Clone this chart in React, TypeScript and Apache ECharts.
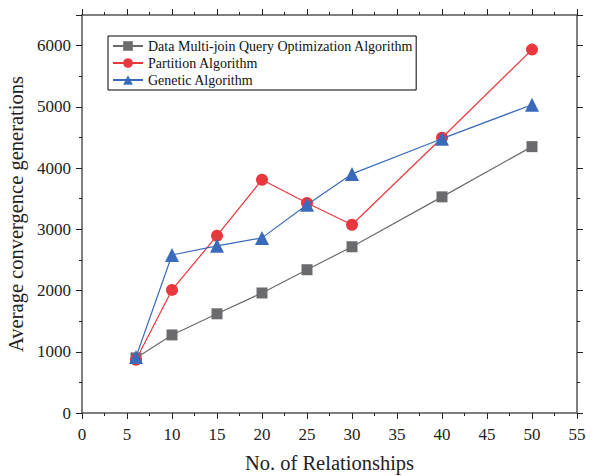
import React, { useEffect, useRef } from "react";
import * as echarts from "echarts";

const xValues = [6, 10, 15, 20, 25, 30, 40, 50];
const multiJoin = [900, 1275, 1620, 1960, 2340, 2715, 3530, 4350];
const partition = [870, 2010, 2895, 3810, 3430, 3075, 4495, 5935];
const genetic = [915, 2580, 2730, 2860, 3400, 3905, 4480, 5035];
const seriesNames = [
  "Data Multi-join Query Optimization Algorithm",
  "Partition Algorithm",
  "Genetic Algorithm",
];

const FONT = "'Liberation Serif', 'Times New Roman', serif";

export default function App() {
  const ref = useRef<HTMLDivElement>(null);
  useEffect(() => {
    document.body.style.margin = "0";
    if (!ref.current) return;
    const chart = echarts.init(ref.current, null, { renderer: "svg" });
    const pairs = (ys: number[]) => xValues.map((x, i) => [x, ys[i]]);
    const axisLine = { show: true, onZero: false, lineStyle: { color: "#555", width: 1.5 } };
    const tickStyle = { color: "#222", width: 1 };
    const xBase = {
      type: "value" as const,
      min: 0,
      max: 55,
      interval: 5,
      splitLine: { show: false },
      axisLine,
      axisTick: { show: true, inside: false, length: 6, lineStyle: tickStyle },
      minorTick: { show: true, splitNumber: 2, length: 3, lineStyle: tickStyle },
    };
    const yBase = {
      type: "value" as const,
      min: 0,
      max: 6500,
      interval: 1000,
      splitLine: { show: false },
      axisLine,
      axisTick: { show: true, inside: false, length: 6, lineStyle: tickStyle },
      minorTick: { show: true, splitNumber: 2, length: 3, lineStyle: tickStyle },
    };
    chart.setOption({
      animation: false,
      textStyle: { fontFamily: FONT },
      grid: {
        left: 82,
        right: 17,
        top: 15,
        bottom: 63,
        containLabel: false,
        outerBoundsMode: "none",
      },
      legend: {
        orient: "vertical",
        left: 108,
        top: 36,
        itemWidth: 30,
        itemHeight: 12,
        itemGap: 3,
        padding: [3, 3, 3, 4],
        borderColor: "#000",
        borderWidth: 1,
        textStyle: { fontFamily: FONT, fontSize: 14, color: "#111" },
        data: seriesNames,
      },
      xAxis: [
        {
          ...xBase,
          position: "bottom",
          name: "No. of Relationships",
          nameLocation: "middle",
          nameGap: 39,
          nameTextStyle: { fontFamily: FONT, fontSize: 20.5, color: "#222" },
          axisLabel: { fontFamily: FONT, fontSize: 17, color: "#222", margin: 13 },
        },
        { ...xBase, position: "top", axisLabel: { show: false } },
      ],
      yAxis: [
        {
          ...yBase,
          position: "left",
          name: "Average convergence generations",
          nameLocation: "middle",
          nameGap: 51,
          nameTextStyle: { fontFamily: FONT, fontSize: 20.5, color: "#222" },
          axisLabel: {
            fontFamily: FONT,
            fontSize: 17,
            color: "#222",
            margin: 11,
            showMaxLabel: false,
            formatter: (v: number) => (v > 6000 ? "" : String(v)),
          },
        },
        { ...yBase, position: "right", axisLabel: { show: false } },
      ],
      series: [
        {
          name: seriesNames[0],
          type: "line",
          data: pairs(multiJoin),
          symbol: "rect",
          symbolSize: 11,
          color: "#6b6b6e",
          lineStyle: { width: 1.2, color: "#6b6b6e" },
          itemStyle: { color: "#6b6b6e" },
          z: 2,
        },
        {
          name: seriesNames[1],
          type: "line",
          data: pairs(partition),
          symbol: "circle",
          symbolSize: 12,
          color: "#e8383d",
          lineStyle: { width: 1.2, color: "#e8383d" },
          itemStyle: { color: "#e8383d" },
          z: 3,
        },
        {
          name: seriesNames[2],
          type: "line",
          data: pairs(genetic),
          symbol: "triangle",
          symbolSize: 14,
          color: "#3a6bbb",
          lineStyle: { width: 1.2, color: "#3a6bbb" },
          itemStyle: { color: "#3a6bbb" },
          z: 4,
        },
      ],
    });
    return () => chart.dispose();
  }, []);
  return <div ref={ref} style={{ width: 594, height: 476 }} />;
}
